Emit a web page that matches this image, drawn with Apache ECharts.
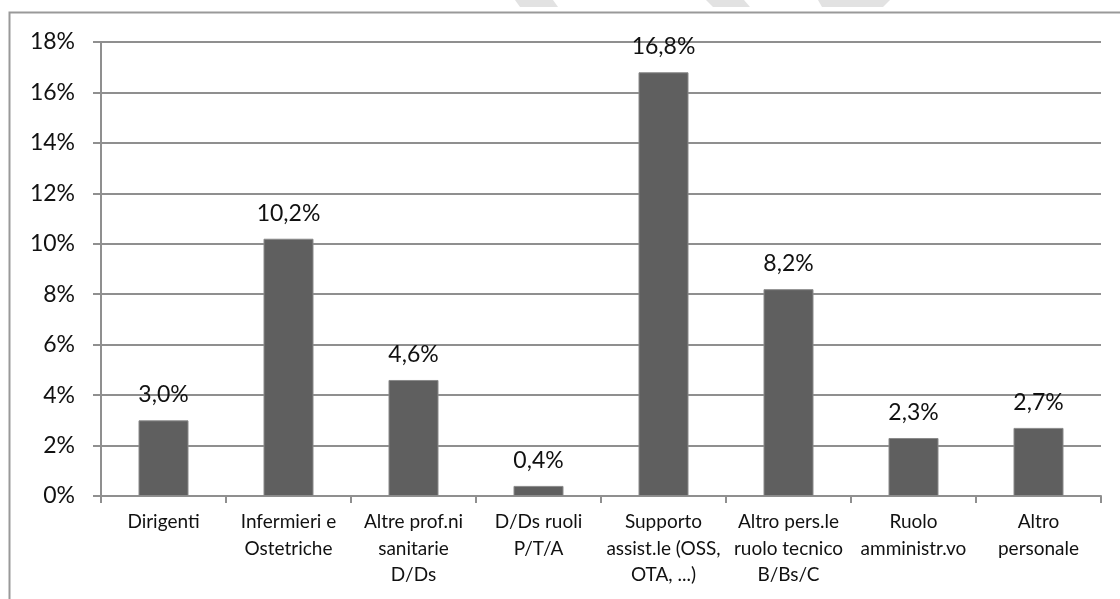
<!DOCTYPE html>
<html>
<head>
<meta charset="utf-8">
<script src="https://cdn.jsdelivr.net/npm/echarts@6/dist/echarts.min.js"></script>
<style>
  html, body { margin: 0; padding: 0; background: #ffffff; }
  #chart { width: 1120px; height: 599px; }
</style>
</head>
<body>
<div id="chart"></div>
<script>
// Categorie di personale
const categories = [
  'Dirigenti',
  'Infermieri e\nOstetriche',
  'Altre prof.ni\nsanitarie\nD/Ds',
  'D/Ds ruoli\nP/T/A',
  'Supporto\nassist.le (OSS,\nOTA, ...)',
  'Altro pers.le\nruolo tecnico\nB/Bs/C',
  'Ruolo\namministr.vo',
  'Altro\npersonale'
];

// Percentuali per categoria
const percentuali = [3.0, 10.2, 4.6, 0.4, 16.8, 8.2, 2.3, 2.7];

// Scala dell'asse verticale (%)
const yMin = 0;
const yMax = 18;
const yStep = 2;

const FONT = 'Lato, "Open Sans", sans-serif';
const GRID_COLOR = '#8f8f8f';

const chart = echarts.init(document.getElementById('chart'), null, { renderer: 'canvas' });

chart.setOption({
  backgroundColor: '#ffffff',
  animation: false,
  grid: { left: 101, right: 19, top: 42, bottom: 103, containLabel: false },
  xAxis: {
    type: 'category',
    data: categories,
    axisLine: { show: true, lineStyle: { color: GRID_COLOR, width: 2 } },
    axisTick: { show: true, length: 7, alignWithLabel: false, lineStyle: { color: GRID_COLOR, width: 2 } },
    axisLabel: {
      interval: 0,
      margin: 13,
      color: '#111111',
      fontFamily: FONT,
      fontSize: 19,
      lineHeight: 26.5,
      align: 'center'
    }
  },
  yAxis: {
    type: 'value',
    min: yMin,
    max: yMax,
    interval: yStep,
    axisLine: { show: true, lineStyle: { color: GRID_COLOR, width: 2 } },
    axisTick: { show: true, length: 8, lineStyle: { color: GRID_COLOR, width: 2 } },
    splitLine: { show: true, lineStyle: { color: GRID_COLOR, width: 2 } },
    axisLabel: {
      margin: 26,
      color: '#111111',
      fontFamily: FONT,
      fontSize: 23,
      formatter: v => v + '%'
    }
  },
  series: [{
    type: 'bar',
    data: percentuali,
    barWidth: '40%',
    itemStyle: { color: '#5f5f5f', borderColor: '#8a8a8a', borderWidth: 1 },
    label: {
      show: true,
      position: 'top',
      distance: 14,
      color: '#111111',
      fontFamily: FONT,
      fontSize: 23,
      formatter: p => p.value.toFixed(1).replace('.', ',') + '%'
    }
  }],
  graphic: [
    // cornice del riquadro
    {
      type: 'rect',
      silent: true,
      shape: { x: 9.5, y: 12.5, width: 1300, height: 800 },
      style: { fill: 'none', stroke: '#999999', lineWidth: 2 }
    },
    // motivo decorativo grigio sul bordo superiore
    {
      type: 'polygon', silent: true,
      shape: { points: [[515, 0], [553, 0], [558, 7], [520, 7]] },
      style: { fill: '#e2e2e2' }
    },
    {
      type: 'polygon', silent: true,
      shape: { points: [[706, 0], [744, 0], [750, 7], [713, 7]] },
      style: { fill: '#e2e2e2' }
    },
    {
      type: 'polygon', silent: true,
      shape: { points: [[818, 0], [890, 0], [883, 7], [822, 7]] },
      style: { fill: '#e2e2e2' }
    }
  ]
});
</script>
</body>
</html>
